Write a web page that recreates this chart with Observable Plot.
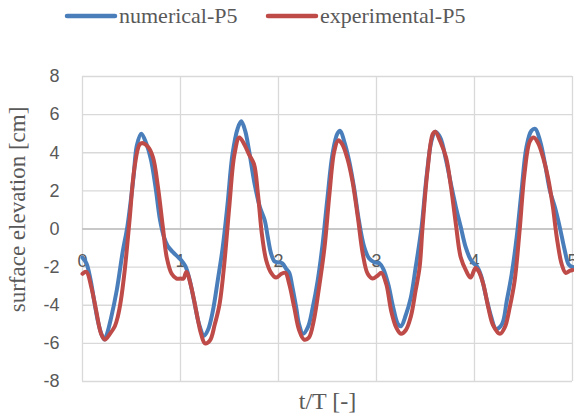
<!DOCTYPE html>
<html>
<head>
<meta charset="utf-8">
<script src="https://cdn.jsdelivr.net/npm/d3@7"></script>
<script src="https://cdn.jsdelivr.net/npm/@observablehq/plot@0.6"></script>
<style>
  body { margin: 0; background: #fff; }
  #chart { width: 574px; }
  #legend { display: block; }
</style>
</head>
<body>
<div id="chart"></div>
<script>
// Surface elevation at gauge P5 over five wave periods
const tNumerical = [
  0, 0.04, 0.08, 0.12, 0.16, 0.20, 0.225, 0.25, 0.29, 0.35, 0.41, 0.46, 0.52, 0.555, 0.60, 0.65, 0.70, 0.745, 0.79, 0.83, 0.87, 0.92, 0.97,
  1.01, 1.05, 1.09, 1.14, 1.19, 1.24, 1.28, 1.33, 1.38, 1.43, 1.48, 1.53, 1.585, 1.62, 1.66, 1.70, 1.755, 1.81, 1.86, 1.89, 1.925, 1.96,
  2.0, 2.04, 2.08, 2.11, 2.14, 2.18, 2.21, 2.25, 2.30, 2.35, 2.40, 2.45, 2.50, 2.55, 2.60, 2.63, 2.67, 2.72, 2.77, 2.82, 2.875, 2.925, 2.98,
  3.03, 3.07, 3.12, 3.17, 3.22, 3.25, 3.30, 3.35, 3.40, 3.46, 3.51, 3.56, 3.60, 3.65, 3.71, 3.76, 3.81, 3.86, 3.91, 3.96,
  4.0, 4.03, 4.07, 4.12, 4.17, 4.22, 4.28, 4.33, 4.38, 4.43, 4.48, 4.53, 4.58, 4.62, 4.67, 4.72, 4.77, 4.82, 4.87, 4.92, 4.96, 5.0
];
const numerical = [
  -1.5, -1.8, -2.6, -3.8, -4.9, -5.6, -5.8, -5.5, -4.7, -3.2, -1.2, 0.2, 2.7, 4.4, 5.0, 4.5, 3.6, 2.2, 0.5, -0.4, -0.9, -1.2, -1.45,
  -1.65, -1.95, -2.6, -3.8, -5.0, -5.6, -5.3, -4.3, -2.7, -1.0, 1.3, 3.9, 5.3, 5.65, 5.15, 4.1, 2.4, 1.15, 0.45, -0.4, -1.3, -1.7,
  -1.75, -1.8, -2.1, -2.3, -3.0, -4.1, -5.0, -5.5, -5.15, -4.1, -2.7, -0.8, 1.65, 3.9, 5.0, 5.15, 4.6, 3.6, 2.2, 0.45, -0.95, -1.55, -1.75,
  -1.8, -2.1, -2.9, -4.1, -5.0, -5.1, -4.5, -3.6, -2.0, 0.1, 2.7, 4.6, 5.1, 4.8, 3.6, 2.35, 1.15, 0.1, -0.95, -1.6,
  -1.85, -2.0, -2.5, -3.6, -4.6, -5.25, -5.0, -3.75, -2.35, -0.45, 2.0, 4.3, 5.15, 5.25, 4.6, 3.4, 2.0, 1.15, 0.1, -1.1, -1.85, -2.0
];

const tExperimental = [
  0, 0.04, 0.09, 0.14, 0.19, 0.23, 0.28, 0.33, 0.36, 0.39, 0.43, 0.48, 0.53, 0.585, 0.62, 0.67, 0.72, 0.77, 0.82, 0.86, 0.91, 0.96,
  1.0, 1.03, 1.06, 1.11, 1.16, 1.21, 1.25, 1.30, 1.35, 1.40, 1.45, 1.50, 1.55, 1.60, 1.65, 1.70, 1.75, 1.79, 1.83, 1.875, 1.925, 1.975,
  2.03, 2.07, 2.11, 2.16, 2.21, 2.26, 2.31, 2.36, 2.41, 2.47, 2.52, 2.57, 2.61, 2.65, 2.70, 2.755, 2.81, 2.86, 2.91, 2.96,
  3.01, 3.05, 3.10, 3.15, 3.20, 3.25, 3.30, 3.35, 3.40, 3.44, 3.47, 3.52, 3.575, 3.60, 3.65, 3.71, 3.76, 3.81, 3.86, 3.915, 3.96,
  4.01, 4.04, 4.09, 4.14, 4.19, 4.26, 4.31, 4.36, 4.41, 4.46, 4.51, 4.565, 4.605, 4.65, 4.70, 4.75, 4.80, 4.84, 4.89, 4.93, 4.97, 5.0
];
const experimental = [
  -2.35, -2.25, -3.05, -4.3, -5.5, -5.8, -5.5, -5.1, -4.6, -3.8, -2.2, 0.45, 3.2, 4.45, 4.5, 4.3, 3.75, 2.2, 0.1, -1.5, -2.35, -2.6,
  -2.6, -2.6, -2.25, -3.05, -4.3, -5.5, -6.0, -5.85, -5.0, -3.9, -1.65, 1.3, 3.9, 4.8, 4.45, 3.9, 3.4, 1.85, -0.25, -1.65, -2.3, -2.55,
  -2.35, -2.3, -2.9, -4.1, -5.3, -5.8, -5.7, -4.8, -3.2, -0.95, 1.85, 4.1, 4.65, 4.45, 3.75, 2.5, 0.6, -1.3, -2.35, -2.6,
  -2.45, -2.3, -2.9, -4.3, -5.15, -5.5, -5.3, -4.6, -3.2, -2.0, 0.1, 3.05, 5.0, 5.1, 4.6, 3.75, 2.2, 0.25, -1.5, -2.2, -2.55,
  -2.05, -2.2, -2.9, -4.1, -5.05, -5.5, -5.15, -4.1, -2.7, -0.1, 2.9, 4.6, 4.8, 4.5, 3.75, 2.7, 1.15, -0.45, -1.85, -2.3, -2.2, -2.15
];

const seriesNames = ["numerical-P5", "experimental-P5"];
const seriesColors = ["#4a7ebb", "#be4b48"];
const xTicks = [0, 1, 2, 3, 4, 5];
const yTicks = [-8, -6, -4, -2, 0, 2, 4, 6, 8];

const numRows = tNumerical.map((t, i) => ({t, v: numerical[i]}));
const expRows = tExperimental.map((t, i) => ({t, v: experimental[i]}));

const textColor = "#595959";
const serif = "'Liberation Serif', 'Times New Roman', serif";
const sans = "'Liberation Sans', Arial, sans-serif";

// Legend row above the plot
const legend = d3.create("svg")
  .attr("id", "legend")
  .attr("width", 574)
  .attr("height", 40);
const legendX = [67, 268];
seriesNames.forEach((name, i) => {
  const g = legend.append("g").attr("transform", `translate(${legendX[i]},0)`);
  g.append("line")
    .attr("x1", 0).attr("x2", 48).attr("y1", 16).attr("y2", 16)
    .attr("stroke", seriesColors[i]).attr("stroke-width", 4.5).attr("stroke-linecap", "round");
  g.append("text")
    .attr("x", 52).attr("y", 23)
    .attr("fill", textColor)
    .attr("font-family", serif)
    .attr("font-size", 22)
    .text(name);
});
document.getElementById("chart").append(legend.node());

const chart = Plot.plot({
  width: 574,
  height: 377,
  marginTop: 36,
  marginBottom: 36,
  marginLeft: 82,
  marginRight: 2,
  style: {background: "#fff", fontFamily: sans, fontSize: "18px", color: textColor, overflow: "visible"},
  x: {domain: [0, 5], axis: null},
  y: {domain: [-8, 8], axis: null},
  marks: [
    Plot.gridY(yTicks, {stroke: "#d9d9d9", strokeOpacity: 1, strokeWidth: 1.3}),
    Plot.gridX(xTicks, {stroke: "#d9d9d9", strokeOpacity: 1, strokeWidth: 1.3}),
    Plot.ruleY([0], {stroke: "#bfbfbf", strokeWidth: 1.3}),
    // value labels, right-aligned to the left of the plot area
    Plot.text(yTicks, {y: d => d, frameAnchor: "left", dx: -23, textAnchor: "end", text: d => String(d), fill: textColor, fontSize: 18, fontFamily: sans}),
    // category labels sit on the horizontal axis, which crosses at zero
    Plot.text(xTicks, {x: d => d, y: 0, dy: 32, text: d => String(d), fill: textColor, fontSize: 18, fontFamily: sans}),
    Plot.line(numRows, {x: "t", y: "v", stroke: seriesColors[0], strokeWidth: 4, curve: "catmull-rom"}),
    Plot.line(expRows, {x: "t", y: "v", stroke: seriesColors[1], strokeWidth: 4, curve: "catmull-rom"}),
    Plot.text(["surface elevation [cm]"], {frameAnchor: "left", dx: -65, dy: -19.5, rotate: -90, textAnchor: "middle", lineAnchor: "middle", fill: textColor, fontFamily: serif, fontSize: 23}),
    Plot.text(["t/T [-]"], {frameAnchor: "bottom", dy: 20, textAnchor: "middle", lineAnchor: "middle", fill: textColor, fontFamily: serif, fontSize: 24})
  ]
});
document.getElementById("chart").append(chart);
</script>
</body>
</html>
